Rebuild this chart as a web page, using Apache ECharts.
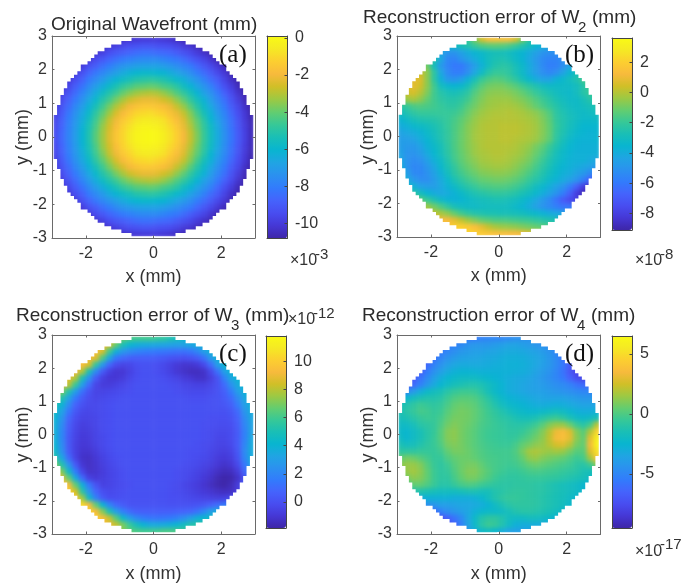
<!DOCTYPE html>
<html><head><meta charset="utf-8">
<script src="https://cdn.jsdelivr.net/npm/echarts@6/dist/echarts.min.js"></script>
<style>
html,body{margin:0;padding:0;background:#fff}
#heat,#front{position:absolute;left:0;top:0;width:684px;height:584px}
#heat{filter:blur(2.2px)}
#front{filter:blur(0.45px)}
</style></head><body>
<div id="heat"></div><div id="front"></div>
<script>
// Rows run from y=+2.9 down to y=-2.9; each row is centred on x=0 with 0.2 mm cells.
// Values are in tenths of the colour bar's unit.
const waveA = [
[-106,-105,-103,-102,-101,-100,-100,-100,-101,-102,-104,-106,-107,-108],
[-106,-104,-101,-98,-96,-94,-93,-92,-92,-93,-94,-95,-97,-100,-102,-105,-107,-108],
[-105,-101,-98,-94,-91,-89,-87,-85,-84,-84,-85,-86,-87,-90,-93,-96,-100,-103,-106,-108],
[-104,-100,-95,-91,-87,-84,-81,-79,-77,-76,-76,-76,-78,-80,-82,-85,-89,-93,-97,-102,-106,-108],
[-103,-99,-93,-89,-84,-80,-76,-73,-71,-69,-68,-68,-68,-70,-72,-75,-78,-81,-86,-91,-96,-101,-105,-108],
[-104,-99,-93,-87,-82,-77,-73,-69,-65,-62,-60,-59,-59,-60,-61,-64,-67,-71,-75,-80,-85,-90,-96,-101,-106,-108],
[-105,-100,-94,-88,-81,-76,-71,-65,-61,-57,-54,-51,-50,-49,-50,-52,-55,-59,-63,-68,-73,-79,-85,-90,-97,-103,-107,-108],
[-102,-96,-89,-83,-76,-70,-64,-58,-53,-48,-45,-42,-41,-40,-41,-44,-46,-50,-56,-61,-67,-73,-79,-86,-93,-99,-105,-108],
[-104,-98,-92,-85,-78,-71,-64,-57,-51,-46,-40,-36,-33,-31,-30,-31,-34,-38,-43,-48,-54,-61,-68,-74,-81,-88,-95,-102,-107,-108],
[-102,-95,-88,-81,-74,-66,-59,-51,-45,-38,-32,-27,-24,-22,-22,-23,-26,-29,-35,-41,-48,-55,-62,-70,-77,-84,-92,-99,-105,-108],
[-100,-92,-85,-77,-70,-62,-54,-46,-38,-31,-25,-20,-17,-15,-15,-16,-18,-22,-28,-34,-42,-50,-58,-66,-74,-81,-89,-96,-103,-108],
[-98,-90,-82,-74,-66,-58,-49,-41,-33,-25,-19,-15,-11,-10,-9,-11,-13,-17,-22,-28,-36,-45,-54,-62,-71,-78,-86,-94,-101,-107],
[-96,-88,-80,-72,-64,-55,-46,-37,-28,-21,-15,-11,-7,-5,-5,-6,-8,-13,-18,-24,-33,-41,-50,-60,-68,-76,-84,-92,-100,-106],
[-95,-87,-79,-71,-62,-53,-44,-34,-26,-18,-12,-8,-4,-2,-2,-3,-6,-10,-15,-22,-30,-39,-48,-57,-66,-75,-83,-91,-99,-105],
[-94,-86,-78,-70,-61,-52,-42,-33,-24,-16,-11,-6,-2,-1,0,-1,-4,-8,-13,-20,-28,-37,-47,-56,-65,-74,-82,-90,-98,-105],
[-94,-86,-78,-70,-61,-52,-42,-33,-24,-16,-11,-6,-2,-1,0,-1,-4,-8,-13,-20,-28,-37,-47,-56,-65,-74,-82,-90,-98,-105],
[-95,-87,-79,-71,-62,-53,-44,-34,-26,-18,-12,-8,-4,-2,-2,-3,-6,-10,-15,-22,-30,-39,-48,-57,-66,-75,-83,-91,-99,-105],
[-96,-88,-80,-72,-64,-55,-46,-37,-28,-21,-15,-11,-7,-5,-5,-6,-8,-13,-18,-24,-33,-41,-50,-60,-68,-76,-84,-92,-100,-106],
[-98,-90,-82,-74,-66,-58,-49,-41,-33,-25,-19,-15,-11,-10,-9,-11,-13,-17,-22,-28,-36,-45,-54,-62,-71,-78,-86,-94,-101,-107],
[-100,-92,-85,-77,-70,-62,-54,-46,-38,-31,-25,-20,-17,-15,-15,-16,-18,-22,-28,-34,-42,-50,-58,-66,-74,-81,-89,-96,-103,-108],
[-102,-95,-88,-81,-74,-66,-59,-51,-45,-38,-32,-27,-24,-22,-22,-23,-26,-29,-35,-41,-48,-55,-62,-70,-77,-84,-92,-99,-105,-108],
[-104,-98,-92,-85,-78,-71,-64,-57,-51,-46,-40,-36,-33,-31,-30,-31,-34,-38,-43,-48,-54,-61,-68,-74,-81,-88,-95,-102,-107,-108],
[-102,-96,-89,-83,-76,-70,-64,-58,-53,-48,-45,-42,-41,-40,-41,-44,-46,-50,-56,-61,-67,-73,-79,-86,-93,-99,-105,-108],
[-105,-100,-94,-88,-81,-76,-71,-65,-61,-57,-54,-51,-50,-49,-50,-52,-55,-59,-63,-68,-73,-79,-85,-90,-97,-103,-107,-108],
[-104,-99,-93,-87,-82,-77,-73,-69,-65,-62,-60,-59,-59,-60,-61,-64,-67,-71,-75,-80,-85,-90,-96,-101,-106,-108],
[-103,-99,-93,-89,-84,-80,-76,-73,-71,-69,-68,-68,-68,-70,-72,-75,-78,-81,-86,-91,-96,-101,-105,-108],
[-104,-100,-95,-91,-87,-84,-81,-79,-77,-76,-76,-76,-78,-80,-82,-85,-89,-93,-97,-102,-106,-108],
[-105,-101,-98,-94,-91,-89,-87,-85,-84,-84,-85,-86,-87,-90,-93,-96,-100,-103,-106,-108],
[-106,-104,-101,-98,-96,-94,-93,-92,-92,-93,-94,-95,-97,-100,-102,-105,-107,-108],
[-106,-105,-103,-102,-101,-100,-100,-100,-101,-102,-104,-106,-107,-108]
];
const errorB = [
[-30,-25,-20,-8,5,14,15,15,14,6,-8,-22,-30,-32],
[-35,-35,-32,-28,-25,-20,-16,-14,-13,-14,-16,-20,-25,-30,-35,-38,-40,-40],
[-38,-44,-50,-50,-45,-40,-36,-33,-30,-28,-28,-30,-33,-36,-40,-45,-50,-52,-52,-48],
[-15,-25,-42,-55,-56,-50,-45,-40,-35,-30,-27,-26,-28,-32,-36,-42,-48,-54,-56,-56,-52,-44],
[-6,-10,-30,-48,-56,-60,-60,-54,-46,-38,-30,-25,-23,-24,-28,-33,-40,-47,-54,-58,-57,-52,-44,-34],
[6,4,-6,-22,-42,-54,-58,-58,-52,-42,-32,-24,-20,-20,-22,-27,-32,-40,-46,-52,-55,-52,-44,-36,-28,-22],
[4,8,6,-6,-22,-38,-48,-50,-46,-38,-28,-20,-16,-14,-15,-18,-22,-28,-34,-40,-44,-44,-38,-34,-30,-26,-18,-14],
[6,8,4,-6,-18,-30,-34,-36,-34,-28,-20,-14,-10,-9,-9,-11,-14,-18,-22,-26,-30,-32,-32,-32,-32,-30,-24,-18],
[0,4,5,0,-8,-18,-24,-27,-28,-26,-22,-15,-10,-7,-6,-6,-7,-9,-12,-16,-20,-24,-27,-30,-32,-33,-30,-24,-20,-18],
[-8,-4,-2,-6,-12,-18,-22,-24,-24,-22,-18,-12,-8,-5,-4,-4,-4,-6,-8,-11,-15,-19,-23,-27,-30,-32,-32,-28,-24,-22],
[-24,-20,-16,-15,-16,-18,-20,-22,-22,-19,-14,-10,-6,-4,-3,-2,-2,-3,-5,-8,-12,-16,-20,-24,-28,-31,-32,-30,-28,-26],
[-30,-26,-22,-20,-20,-20,-20,-20,-19,-16,-11,-7,-4,-2,-1,-1,0,-1,-2,-4,-6,-10,-15,-22,-26,-29,-31,-32,-31,-30],
[-36,-32,-28,-26,-25,-24,-22,-20,-17,-13,-9,-5,-2,-1,0,0,0,0,-1,-2,-4,-8,-13,-21,-25,-28,-31,-33,-33,-32],
[-40,-38,-34,-32,-30,-27,-24,-20,-16,-12,-7,-4,-1,0,0,1,1,1,0,-1,-3,-7,-12,-20,-25,-29,-32,-35,-35,-35],
[-44,-42,-40,-37,-33,-29,-25,-21,-16,-11,-7,-3,-1,0,0,1,1,1,0,-1,-3,-7,-12,-21,-26,-31,-34,-36,-37,-36],
[-46,-46,-44,-40,-36,-31,-26,-21,-16,-11,-7,-3,-1,0,0,1,1,0,-1,-2,-4,-8,-13,-22,-28,-33,-36,-37,-37,-36],
[-46,-48,-48,-44,-38,-33,-28,-22,-16,-11,-7,-4,-1,0,0,0,0,-1,-3,-5,-9,-13,-19,-25,-31,-35,-37,-38,-38,-38],
[-44,-50,-50,-47,-41,-35,-29,-23,-17,-12,-8,-4,-2,-1,0,0,-1,-2,-4,-7,-11,-16,-22,-28,-33,-36,-38,-38,-38,-38],
[-42,-50,-53,-51,-45,-38,-32,-25,-18,-13,-9,-6,-3,-2,-1,-1,-2,-4,-6,-9,-14,-19,-25,-30,-34,-37,-38,-38,-40,-42],
[-38,-50,-55,-54,-49,-42,-34,-27,-21,-15,-11,-8,-5,-4,-3,-3,-4,-6,-9,-12,-17,-22,-27,-32,-36,-38,-40,-42,-44,-48],
[-34,-46,-54,-55,-51,-45,-38,-30,-23,-18,-14,-11,-8,-7,-6,-6,-7,-9,-12,-16,-20,-25,-30,-34,-38,-40,-44,-48,-54,-60],
[-30,-40,-48,-52,-52,-47,-41,-34,-27,-22,-18,-15,-12,-11,-10,-10,-11,-13,-16,-20,-24,-28,-33,-37,-41,-45,-50,-58,-68,-76],
[-32,-38,-44,-46,-46,-42,-37,-32,-27,-23,-20,-17,-16,-15,-15,-16,-18,-21,-25,-30,-34,-39,-44,-50,-58,-68,-80,-86],
[-20,-24,-30,-36,-40,-42,-40,-37,-33,-29,-26,-24,-22,-21,-21,-22,-24,-27,-30,-34,-39,-44,-50,-58,-68,-80,-88,-88],
[-10,-14,-20,-26,-32,-36,-37,-36,-33,-31,-29,-28,-27,-27,-28,-30,-33,-37,-42,-48,-54,-62,-70,-76,-80,-80],
[-3,-4,-10,-16,-22,-28,-31,-32,-32,-31,-30,-30,-30,-31,-33,-36,-40,-45,-50,-54,-58,-62,-62,-62],
[2,2,-2,-6,-12,-18,-22,-25,-26,-27,-27,-28,-28,-29,-30,-32,-34,-37,-40,-42,-44,-44],
[10,12,12,8,2,-4,-8,-12,-14,-16,-16,-17,-18,-19,-20,-22,-24,-26,-28,-30],
[16,18,20,20,18,14,8,2,-2,-4,-5,-6,-8,-10,-12,-14,-16,-18],
[22,22,22,20,18,16,14,14,13,12,10,8,4,0]
];
const errorC = [
[84,76,68,62,60,60,60,58,56,52,48,42,38,36],
[95,92,85,66,50,42,38,36,35,34,33,32,31,32,34,36,38,38],
[95,95,85,60,38,27,22,19,17,16,15,14,13,12,12,14,20,30,38,40],
[95,92,86,62,34,14,9,6,5,5,5,4,3,1,0,-1,1,4,12,28,38,40],
[95,94,84,56,28,8,-2,-5,-4,-1,0,0,-1,-3,-6,-9,-11,-11,-9,-3,10,30,40,42],
[95,92,78,50,22,4,-6,-10,-10,-6,-2,0,0,-1,-3,-6,-10,-12,-14,-14,-12,-3,12,30,40,42],
[92,88,78,50,24,4,-6,-10,-10,-8,-4,-1,0,0,0,-1,-3,-5,-8,-10,-12,-12,-7,1,18,34,40,42],
[90,80,58,30,10,-4,-8,-8,-6,-4,-2,0,0,0,0,0,-1,-2,-4,-5,-6,-6,-4,0,10,24,36,40],
[80,70,52,30,12,1,-5,-5,-4,-3,-2,-1,0,0,0,0,0,0,-1,-2,-3,-3,-3,-2,1,6,16,30,38,40],
[62,52,32,15,4,-2,-4,-3,-2,-1,0,0,0,0,0,0,0,0,0,0,-1,-1,-1,0,1,4,10,22,34,40],
[50,40,22,7,0,-3,-3,-2,-1,0,0,0,0,0,0,0,0,0,0,0,0,0,0,0,1,2,6,16,30,38],
[44,32,14,3,-3,-4,-3,-2,-1,0,0,0,0,0,0,0,0,0,0,0,0,0,0,0,0,0,3,10,26,36],
[40,26,8,-1,-5,-5,-4,-2,-1,0,0,0,0,0,0,0,0,0,0,0,0,0,0,-1,-1,-1,1,7,22,34],
[38,22,5,-3,-7,-6,-4,-2,-1,0,0,0,0,0,0,0,0,0,0,0,0,0,-1,-1,-2,-2,-1,5,20,32],
[38,20,4,-4,-8,-7,-5,-2,-1,0,0,0,0,0,0,0,0,0,0,0,0,0,-1,-2,-3,-3,-2,4,18,32],
[38,20,3,-5,-9,-8,-5,-3,-1,0,0,0,0,0,0,0,0,0,0,0,0,0,-1,-2,-4,-4,-2,4,18,34],
[40,22,3,-6,-10,-9,-6,-3,-1,0,0,0,0,0,0,0,0,0,0,0,0,-1,-2,-3,-5,-5,-3,4,20,36],
[44,24,4,-6,-11,-11,-8,-4,-2,0,0,0,0,0,0,0,0,0,0,0,-1,-1,-2,-4,-6,-7,-5,3,22,36],
[54,34,10,-5,-12,-13,-10,-6,-3,-1,0,0,0,0,0,0,0,0,0,0,-1,-2,-3,-5,-8,-9,-7,1,20,36],
[70,52,26,4,-10,-13,-11,-7,-4,-2,0,0,0,0,0,0,0,0,0,-1,-2,-3,-5,-7,-10,-12,-10,-3,14,32],
[84,70,44,16,-4,-12,-11,-8,-5,-3,-1,0,0,0,0,0,0,0,-1,-2,-3,-5,-7,-10,-13,-15,-14,-8,8,28],
[95,88,66,36,10,-6,-9,-7,-5,-3,-1,0,0,0,0,0,0,0,-1,-2,-4,-6,-9,-12,-16,-18,-17,-12,0,20],
[100,92,66,38,14,1,-6,-5,-3,-2,-1,0,0,0,0,0,-1,-2,-4,-6,-8,-11,-14,-17,-18,-15,-8,6],
[105,100,84,54,26,8,-1,-3,-2,-1,0,0,0,0,0,0,-1,-2,-3,-5,-7,-9,-11,-13,-14,-13,-8,0],
[105,98,76,44,18,4,-1,-1,0,0,0,0,0,0,0,-1,-1,-2,-3,-4,-5,-6,-7,-6,-3,2],
[105,104,92,66,40,20,9,4,1,1,1,1,1,1,0,0,0,0,1,3,6,10,14,18],
[105,102,92,72,50,30,17,10,6,5,5,5,5,5,6,7,8,12,20,30,36,38],
[105,100,94,82,64,44,30,21,16,14,13,14,15,18,23,30,38,42,44,44],
[100,96,90,82,70,58,48,40,36,35,36,38,41,46,52,54,54,50],
[88,80,72,66,62,60,60,60,62,62,62,60,56,52]
];
const errorD = [
[-60,-58,-55,-55,-52,-50,-50,-50,-48,-46,-45,-45,-48,-50],
[-60,-55,-52,-48,-44,-42,-42,-42,-40,-38,-36,-36,-38,-40,-42,-45,-48,-52],
[-62,-55,-50,-46,-42,-40,-38,-38,-36,-35,-33,-32,-32,-33,-35,-37,-40,-44,-50,-56],
[-65,-58,-50,-44,-40,-37,-36,-35,-34,-33,-32,-30,-29,-29,-30,-32,-34,-37,-42,-48,-58,-66],
[-70,-62,-52,-44,-38,-34,-32,-32,-32,-32,-31,-30,-29,-28,-28,-29,-31,-34,-38,-42,-48,-56,-68,-75],
[-72,-66,-55,-45,-38,-32,-28,-26,-26,-27,-28,-28,-28,-28,-28,-29,-30,-32,-36,-40,-44,-50,-58,-70,-78,-80],
[-72,-68,-58,-48,-38,-30,-25,-22,-20,-20,-20,-22,-24,-26,-28,-30,-32,-33,-35,-38,-42,-46,-50,-56,-65,-74,-78,-75],
[-70,-62,-52,-42,-32,-25,-20,-16,-14,-12,-12,-14,-18,-22,-26,-30,-32,-34,-36,-38,-40,-43,-46,-48,-52,-58,-62,-60],
[-55,-48,-40,-30,-22,-18,-15,-10,-6,-4,-4,-5,-10,-16,-22,-26,-30,-32,-34,-36,-37,-38,-40,-42,-44,-46,-48,-50,-50,-48],
[-28,-24,-18,-14,-12,-12,-10,-4,0,2,2,0,-4,-10,-16,-22,-26,-28,-30,-32,-34,-35,-36,-36,-36,-38,-40,-42,-42,-40],
[-15,-12,-8,-4,-6,-8,-6,-1,4,6,5,3,-2,-6,-12,-18,-22,-24,-26,-28,-30,-31,-30,-29,-30,-32,-34,-36,-36,-35],
[-14,-10,-6,-2,-3,-6,-4,2,6,8,7,4,0,-4,-8,-12,-16,-20,-22,-24,-24,-22,-20,-18,-20,-24,-28,-30,-30,-28],
[-16,-14,-10,-6,-4,-5,-2,4,8,8,7,4,0,-3,-6,-9,-11,-14,-16,-16,-14,-10,-6,-4,-8,-14,-20,-22,-20,-15],
[-20,-20,-16,-10,-8,-6,0,7,10,8,6,3,-1,-3,-5,-7,-9,-10,-10,-8,-4,2,10,14,14,6,-4,-10,-2,20],
[-22,-24,-20,-15,-10,-6,2,10,12,8,5,2,-2,-4,-5,-6,-8,-8,-6,-2,3,10,20,32,36,28,10,2,18,46],
[-20,-24,-20,-15,-10,-5,2,10,12,8,5,2,-2,-4,-5,-6,-7,-6,-2,2,7,12,22,34,38,30,12,4,30,58],
[-14,-18,-16,-12,-8,-5,0,8,10,8,5,2,-1,-3,-4,-5,-5,-2,4,8,12,14,20,26,28,20,8,4,34,60],
[-8,-8,-8,-6,-6,-6,-3,4,8,8,6,3,0,-2,-3,-3,-3,0,8,16,18,16,14,16,14,8,2,2,28,52],
[4,8,6,2,-2,-6,-6,0,4,6,6,4,1,-1,-2,-3,-3,-1,4,12,14,10,8,6,4,0,-4,-2,16,40],
[12,14,14,10,2,-5,-8,-4,2,6,8,8,4,0,-2,-3,-4,-3,0,4,6,4,2,0,-2,-4,-8,-10,-4,12],
[10,14,16,12,4,-4,-8,-6,0,6,10,10,6,2,-2,-4,-6,-6,-4,-2,-1,-2,-3,-4,-6,-8,-10,-14,-16,-14],
[2,8,12,10,4,-4,-8,-8,-2,4,8,8,4,0,-4,-7,-8,-8,-7,-6,-6,-6,-7,-8,-10,-12,-14,-16,-20,-24],
[-2,4,4,0,-5,-10,-10,-6,-2,0,-1,-4,-6,-8,-9,-9,-8,-8,-8,-9,-10,-12,-14,-16,-18,-20,-24,-30],
[-16,-12,-12,-14,-16,-18,-18,-18,-16,-14,-14,-16,-16,-12,-10,-8,-7,-7,-8,-9,-10,-12,-14,-16,-18,-20,-24,-30],
[-30,-30,-28,-28,-28,-28,-30,-30,-30,-28,-24,-18,-12,-8,-6,-6,-7,-8,-9,-11,-13,-15,-17,-20,-24,-28],
[-48,-44,-42,-38,-38,-36,-34,-34,-32,-30,-26,-20,-14,-10,-8,-8,-8,-9,-11,-13,-15,-18,-22,-26],
[-64,-60,-52,-46,-42,-38,-34,-28,-24,-22,-22,-20,-16,-12,-10,-10,-11,-13,-15,-18,-22,-26],
[-76,-74,-66,-58,-48,-34,-22,-12,-8,-8,-12,-18,-20,-20,-18,-18,-20,-22,-26,-30],
[-82,-76,-66,-52,-36,-22,-10,-4,-6,-12,-20,-28,-30,-30,-30,-32,-34,-38],
[-62,-52,-42,-30,-22,-20,-24,-30,-36,-38,-38,-38,-40,-42]
];
const xCells = ['-2.9','-2.7','-2.5','-2.3','-2.1','-1.9','-1.7','-1.5','-1.3','-1.1','-0.9','-0.7','-0.5','-0.3','-0.1','0.1','0.3','0.5','0.7','0.9','1.1','1.3','1.5','1.7','1.9','2.1','2.3','2.5','2.7','2.9'];
const xTicks = [-2,0,2];
const yTicks = [-3,-2,-1,0,1,2,3];
const ticksA = [0,-2,-4,-6,-8,-10];
const ticksB = [2,0,-2,-4,-6,-8];
const ticksC = [10,8,6,4,2,0];
const ticksD = [5,0,-5];
const parula = ['#3e26a8','#4537d5','#484df0','#4563fc','#327bfc','#2b91ef','#20a5e3','#08b5d0','#19bfb6','#37c897','#64cd6f','#9dc943','#d1bf27','#f8ba3d','#fccf30','#f5e924','#f9fb15'];
const apertureRadius = 2.97;

const panels = [
 {rows:waveA,  min:-10.8,max:0.1, ticks:ticksA, box:[52,36,203,202],  bar:[267,36,20,202.5], title:'Original Wavefront (mm)', tl:[51,15], letter:'(a)', ll:[219,43], exp:'-3',  ex:[290,253,315,247], xGap:30},
 {rows:errorB, min:-9.1, max:3.6, ticks:ticksB, box:[397,36,203.5,201],bar:[612,38,20,192],  title:'Reconstruction error of W', sub:'2', tl:[363,8], letter:'(b)', ll:[565,43], exp:'-8',  ex:[635,253,660,247], xGap:30},
 {rows:errorC, min:-1.85,max:11.8,ticks:ticksC, box:[52,335,203,200], bar:[266,336,20,192],  title:'Reconstruction error of W', sub:'3', tl:[16,306], letter:'(c)', ll:[219,342], exp:'-12', ex:[288,312,313,306], xGap:31},
 {rows:errorD, min:-9.5, max:6.5, ticks:ticksD, box:[397,335,203.5,200],bar:[612,336,20,192],title:'Reconstruction error of W', sub:'4', tl:[362,306], letter:'(d)', ll:[565,342], exp:'-17', ex:[635,544,660,537], xGap:31}
];
const TEXT='#333', LINE='#6a6a6a', BAR='#444', UNIT=0.1, sans='"Liberation Sans",Arial,sans-serif';

/* ---- colour layer: the four heatmaps ---- */
const heatOption = {animation:false,grid:[],xAxis:[],yAxis:[],visualMap:[],series:[]};
panels.forEach((p,i)=>{
  heatOption.grid.push({left:p.box[0],top:p.box[1],width:p.box[2],height:p.box[3],containLabel:false});
  heatOption.xAxis.push({type:'category',gridIndex:i,data:xCells,show:false});
  heatOption.yAxis.push({type:'category',gridIndex:i,data:xCells,show:false});
  const data=[];
  p.rows.forEach((row,r)=>{
    const start=(xCells.length-row.length)/2;
    row.forEach((v,k)=>data.push([start+k,p.rows.length-1-r,+(v*UNIT).toFixed(2)]));
  });
  heatOption.visualMap.push({show:false,seriesIndex:i,dimension:2,min:p.min,max:p.max,inRange:{color:parula}});
  heatOption.series.push({type:'heatmap',xAxisIndex:i,yAxisIndex:i,data,silent:true,progressive:0,itemStyle:{borderWidth:0}});
});
echarts.init(document.getElementById('heat')).setOption(heatOption);

/* ---- front layer: aperture, axes, colour bars, text ---- */
const stairRows=[];
for(let k=-29;k<=29;k++){
  const y=k/10;
  stairRows.push([y,Math.floor(Math.sqrt(apertureRadius*apertureRadius-y*y)*10)/10+0.05]);
}
function apertureMask(params,api){
  const side=s=>{
    const pts=[[-3.2*s,-3.2],[0.05*s,-3.2],[0.05*s,-2.95]];
    stairRows.forEach(([y,h])=>{pts.push([-h*s,y-0.05]);pts.push([-h*s,y+0.05]);});
    pts.push([0.05*s,2.95],[0.05*s,3.2],[-3.2*s,3.2]);
    return {type:'polygon',shape:{points:pts.map(q=>api.coord(q))},style:{fill:'#fff'}};
  };
  return {type:'group',children:[side(1),side(-1)]};
}
const opt={animation:false,backgroundColor:'transparent',grid:[],xAxis:[],yAxis:[],visualMap:[],series:[],title:[]};
const axisBase={z:6,axisLine:{show:true,onZero:false,lineStyle:{color:LINE,width:1}},splitLine:{show:false}};
const barBase={z:6,axisLine:{show:true,onZero:false,lineStyle:{color:BAR,width:1}},splitLine:{show:false}};
const label=(text,left,top,fontSize,color,family)=>({text,left,top,padding:0,textStyle:{fontFamily:family||sans,fontSize,fontWeight:'normal',color:color||TEXT}});
panels.forEach((p,i)=>{
  const g=i*2;
  opt.grid.push({left:p.box[0],top:p.box[1],width:p.box[2],height:p.box[3]});
  opt.grid.push({left:p.bar[0],top:p.bar[1],width:p.bar[2],height:p.bar[3]});
  const mk=(extra)=>Object.assign({},axisBase,extra);
  const mb=(extra)=>Object.assign({},barBase,extra);
  const tickI={show:true,inside:true,length:2.5,lineStyle:{color:LINE,width:1}};
  opt.xAxis.push(mk({type:'value',gridIndex:g,min:-3,max:3,position:'bottom',
    axisTick:Object.assign({customValues:xTicks},tickI),
    axisLabel:{customValues:xTicks,margin:8,color:TEXT,fontSize:16,fontFamily:sans},
    name:'x (mm)',nameLocation:'middle',nameGap:p.xGap,nameMoveOverlap:false,nameTextStyle:{color:TEXT,fontSize:18,fontFamily:sans}}));
  opt.xAxis.push(mk({type:'value',gridIndex:g,min:-3,max:3,position:'top',
    axisTick:Object.assign({customValues:xTicks},tickI),axisLabel:{show:false}}));
  opt.yAxis.push(mk({type:'value',gridIndex:g,min:-3,max:3,position:'left',
    axisTick:Object.assign({customValues:yTicks},tickI),
    axisLabel:{customValues:yTicks,margin:5,color:TEXT,fontSize:16,fontFamily:sans},
    name:'y (mm)',nameLocation:'middle',nameGap:20,nameMoveOverlap:false,nameTextStyle:{color:TEXT,fontSize:18,fontFamily:sans}}));
  opt.yAxis.push(mk({type:'value',gridIndex:g,min:-3,max:3,position:'right',
    axisTick:Object.assign({customValues:yTicks},tickI),axisLabel:{show:false}}));
  // colour bar frame and ticks
  opt.xAxis.push(mb({type:'value',gridIndex:g+1,min:0,max:1,position:'bottom',axisTick:{show:false},axisLabel:{show:false}}));
  opt.xAxis.push(mb({type:'value',gridIndex:g+1,min:0,max:1,position:'top',axisTick:{show:false},axisLabel:{show:false}}));
  opt.yAxis.push(mb({type:'value',gridIndex:g+1,min:p.min,max:p.max,position:'left',axisTick:{show:false},axisLabel:{show:false}}));
  opt.yAxis.push(mb({type:'value',gridIndex:g+1,min:p.min,max:p.max,position:'right',
    axisTick:Object.assign({customValues:p.ticks},tickI,{lineStyle:{color:BAR,width:1}}),
    axisLabel:{customValues:p.ticks,margin:8,color:TEXT,fontSize:16,fontFamily:sans}}));
  opt.visualMap.push({type:'continuous',seriesIndex:[],min:p.min,max:p.max,calculable:false,hoverLink:false,
    left:p.bar[0],top:p.bar[1],itemWidth:p.bar[2],itemHeight:p.bar[3],padding:0,text:null,inRange:{color:parula},z:4});
  opt.series.push({type:'custom',xAxisIndex:i*4,yAxisIndex:i*4,data:[[0,0]],renderItem:apertureMask,silent:true,z:1});
  // title pieces, panel letter, exponent
  opt.title.push(label(p.title,p.tl[0],p.tl[1],19,'#2a2a2a'));
  if(p.sub){
    opt.title.push(label(p.sub,p.tl[0]+215,p.tl[1]+12,15,'#2a2a2a'));
    opt.title.push(label('(mm)',p.tl[0]+229,p.tl[1],19,'#2a2a2a'));
  }
  opt.title.push(label(p.letter,p.ll[0],p.ll[1],25,'#111','"Liberation Serif",serif'));
  opt.title.push(label('\u00d710',p.ex[0],p.ex[1],16,TEXT));
  opt.title.push(label(p.exp,p.ex[2],p.ex[3],15,TEXT));
});
echarts.init(document.getElementById('front')).setOption(opt);
</script></body></html>
